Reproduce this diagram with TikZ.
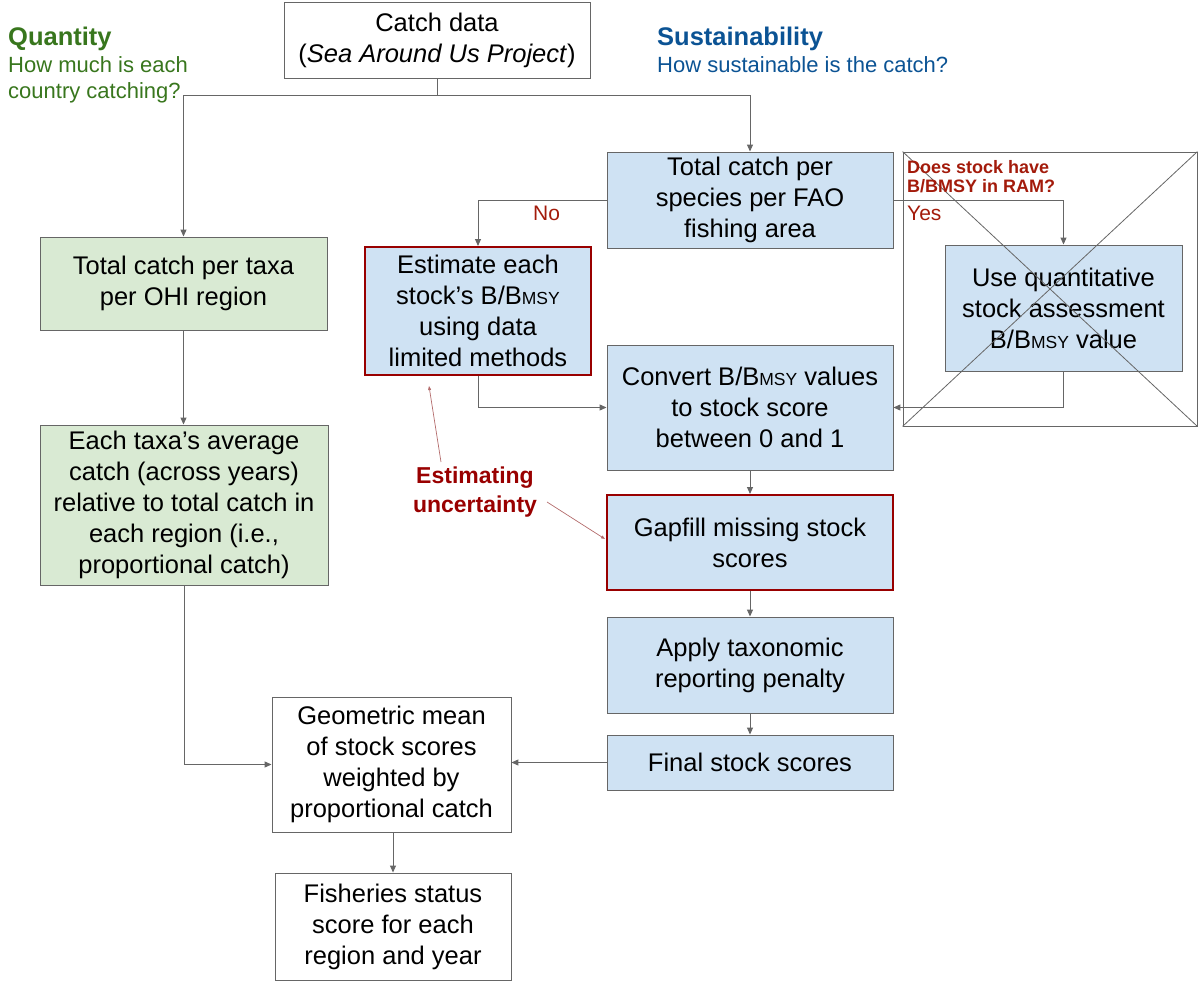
\documentclass[tikz,border=0pt]{standalone}
\usepackage{fontspec}
\setmainfont{Liberation Sans}
\usetikzlibrary{arrows.meta}
\definecolor{linegray}{HTML}{666666}
\definecolor{greenfill}{HTML}{D9EAD3}
\definecolor{bluefill}{HTML}{CFE2F3}
\definecolor{darkred}{HTML}{990000}
\definecolor{labelred}{HTML}{A31B0B}
\definecolor{qgreen}{HTML}{38761D}
\definecolor{sblue}{HTML}{0B5394}
\definecolor{thinred}{HTML}{B36B6B}
\newcommand\bmsy{B/B{\fontsize{17.5}{17.5}\selectfont MSY}}
\begin{document}
\begin{tikzpicture}[x=1pt,y=-1pt,
  box/.style={draw=linegray, line width=0.9pt, rectangle, align=center, inner sep=0pt,
    font=\fontsize{25.5}{31}\selectfont},
  whitebox/.style={box, fill=white},
  greenbox/.style={box, fill=greenfill},
  bluebox/.style={box, fill=bluefill},
  redbox/.style={box, fill=bluefill, draw=darkred, line width=2pt},
  conn/.style={draw=linegray, line width=1pt},
  arr/.style={conn, -{Triangle[length=7pt,width=6pt]}},
  thinarr/.style={draw=thinred, line width=0.7pt, -{Triangle[length=4pt,width=3pt]}},
  lbl/.style={inner sep=0pt, anchor=base west}
]
\path[use as bounding box] (0,0) rectangle (1200,982);

% headings
\node[lbl, text=qgreen, font=\bfseries\fontsize{25.5}{25}\selectfont] (qt) at (8,46) {Quantity};
\node[lbl, text=qgreen, font=\fontsize{22}{22}\selectfont] (qs1) at (8,73) {How much is each};
\node[lbl, text=qgreen, font=\fontsize{22}{22}\selectfont] (qs2) at (8,99) {country catching?};
\node[lbl, text=sblue, font=\bfseries\fontsize{25.5}{25}\selectfont] (st) at (657,46) {Sustainability};
\node[lbl, text=sblue, font=\fontsize{22}{22}\selectfont] (ss) at (657,73) {How sustainable is the catch?};

% boxes
\node[whitebox, minimum width=306pt, minimum height=76pt] (catch) at (437,40) {Catch data\\(\textit{Sea Around Us Project})};
\node[greenbox, minimum width=287pt, minimum height=93pt] (g1) at (183.5,283.5) {Total catch per taxa\\per OHI region};
\node[greenbox, minimum width=288pt, minimum height=160pt] (g2) at (184,505) {Each taxa’s average\\catch (across years)\\relative to total catch in\\each region (i.e.,\\proportional catch)};
\node[whitebox, minimum width=239pt, minimum height=135pt] (geo) at (391.5,764.5) {Geometric mean\\of stock scores\\weighted by\\proportional catch};
\node[whitebox, minimum width=236pt, minimum height=107pt] (fish) at (393,926.5) {Fisheries status\\score for each\\region and year};

\node[bluebox, minimum width=286pt, minimum height=96pt] (tc) at (750,200) {Total catch per\\species per FAO\\fishing area};
\node[redbox, minimum width=226pt, minimum height=128pt] (est) at (478,311) {Estimate each\\stock’s \bmsy\\using data\\limited methods};
\node[bluebox, minimum width=286pt, minimum height=125pt] (conv) at (750,407.5) {Convert \bmsy{} values\\to stock score\\between 0 and 1};
\node[redbox, minimum width=286pt, minimum height=95pt] (gap) at (750,542.5) {Gapfill missing stock\\scores};
\node[bluebox, minimum width=286pt, minimum height=96pt] (app) at (750,665) {Apply taxonomic\\reporting penalty};
\node[bluebox, minimum width=286pt, minimum height=55pt] (fin) at (750,762.5) {Final stock scores};
\node[bluebox, minimum width=237pt, minimum height=126pt] (uq) at (1063.5,308) {Use quantitative\\stock assessment\\\bmsy{} value};

% placeholder crossed box
\node[draw=linegray, line width=0.8pt, minimum width=294pt, minimum height=274pt, inner sep=0pt] (ph) at (1050,289) {};
\draw[draw=linegray, line width=0.8pt] (ph.north west) -- (ph.south east);
\draw[draw=linegray, line width=0.8pt] (ph.south west) -- (ph.north east);

% connectors
\coordinate (split) at (437,96);
\draw[conn] (catch.south) -- (split);
\draw[arr] (split) -| (g1.north);
\draw[arr] (split) -| (tc.north);
\draw[arr] (g1.south) -- (g1.south |- g2.north);
\draw[arr] (g2.south) |- (geo.west);
\draw[arr] (fish.north |- geo.south) -- (fish.north);
\draw[arr] (tc.west) -| (est.north);
\draw[arr] (tc.east) -| (uq.north);
\draw[arr] (est.south) |- (conv.west);
\draw[arr] (uq.south) |- (conv.east);
\draw[arr] (conv.south) -- (gap.north);
\draw[arr] (gap.south) -- (app.north);
\draw[arr] (app.south) -- (fin.north);
\draw[arr] (fin.west) -- (fin.west -| geo.east);

% labels
\node[lbl, text=labelred, font=\fontsize{21}{21}\selectfont] (no) at (533,220) {No};
\node[lbl, text=labelred, font=\fontsize{21}{21}\selectfont] (yes) at (907,220) {Yes};
\node[lbl, text=labelred, font=\bfseries\fontsize{18}{18}\selectfont] (q1) at (907,173) {Does stock have};
\node[lbl, text=labelred, font=\bfseries\fontsize{18}{18}\selectfont] (q2) at (907,192) {B/BMSY in RAM?};

\node[align=center, inner sep=0pt, text=darkred, font=\bfseries\fontsize{23}{29}\selectfont] (eu) at (475,492) {Estimating\\uncertainty};
\coordinate (eu1) at (441,462);
\coordinate (eu1t) at (429,386);
\coordinate (eu2) at (547,502);
\coordinate (eu2t) at (605,539);
\draw[thinarr] (eu1) -- (eu1t);
\draw[thinarr] (eu2) -- (eu2t);
\end{tikzpicture}
\end{document}
